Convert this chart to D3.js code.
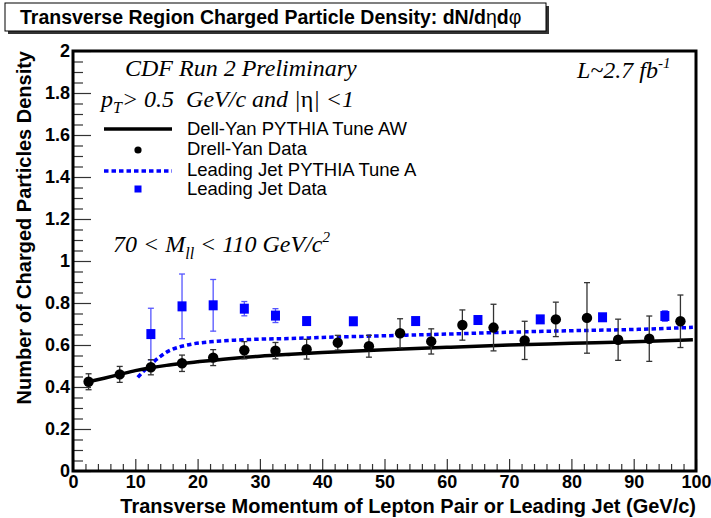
<!DOCTYPE html>
<html>
<head>
<meta charset="utf-8">
<script src="https://cdn.jsdelivr.net/npm/d3@7"></script>
<style>
  body { margin: 0; background: #fff; }
  text { font-family: "Liberation Sans", Arial, sans-serif; }
  .it { font-family: "Liberation Serif", "Times New Roman", serif; font-style: italic; white-space: pre; }
</style>
</head>
<body>
<div id="chart"></div>
<script>
// Drell-Yan data (black circles)
var dyX   = [2.5, 7.5, 12.5, 17.5, 22.5, 27.5, 32.5, 37.5, 42.5, 47.5, 52.5, 57.5, 62.5, 67.5, 72.5, 77.5, 82.5, 87.5, 92.5, 97.5];
var dyY   = [0.425, 0.46, 0.494, 0.513, 0.540, 0.575, 0.573, 0.580, 0.611, 0.594, 0.656, 0.617, 0.695, 0.683, 0.622, 0.722, 0.729, 0.625, 0.630, 0.713];
var dyErr = [0.038, 0.038, 0.036, 0.039, 0.038, 0.041, 0.039, 0.047, 0.035, 0.052, 0.069, 0.060, 0.072, 0.111, 0.091, 0.082, 0.168, 0.098, 0.108, 0.125];

// Leading jet data (blue squares)
var ljX   = [12.5, 17.5, 22.5, 27.5, 32.5, 37.5, 45, 55, 65, 75, 85, 95];
var ljY   = [0.652, 0.784, 0.789, 0.773, 0.740, 0.714, 0.713, 0.714, 0.719, 0.722, 0.732, 0.738];
var ljErr = [0.123, 0.154, 0.123, 0.034, 0.033, 0.016, 0.014, 0.014, 0.016, 0.014, 0.015, 0.025];

// PYTHIA Tune AW, Drell-Yan (solid black)
var awX = [2.5, 5, 7.5, 10, 12.5, 15, 17.5, 20, 25, 30, 35, 40, 50, 60, 70, 80, 90, 99.5];
var awY = [0.425, 0.442, 0.46, 0.478, 0.492, 0.503, 0.512, 0.520, 0.535, 0.547, 0.556, 0.564, 0.577, 0.589, 0.600, 0.608, 0.616, 0.625];

// PYTHIA Tune A, leading jet (dotted blue)
var taX = [10.4, 11.5, 12.7, 14, 15.4, 17, 19, 22, 26, 30, 35, 40, 50, 60, 70, 80, 90, 99.5];
var taY = [0.446, 0.48, 0.513, 0.545, 0.572, 0.590, 0.604, 0.615, 0.623, 0.628, 0.631, 0.636, 0.644, 0.652, 0.661, 0.668, 0.674, 0.684];

var xMajor = [0, 10, 20, 30, 40, 50, 60, 70, 80, 90, 100];
var yMajor = [0, 0.2, 0.4, 0.6, 0.8, 1, 1.2, 1.4, 1.6, 1.8, 2];

var legText = ["Dell-Yan PYTHIA Tune AW", "Drell-Yan Data", "Leading Jet PYTHIA Tune A", "Leading Jet Data"];

var W = 711, H = 518;
var pL = 73, pR = 696, pT = 51, pB = 471;

var svg = d3.select("#chart").append("svg")
    .attr("width", W)
    .attr("height", H);

var x = d3.scaleLinear().domain([0, 100]).range([pL, pR]);
var y = d3.scaleLinear().domain([0, 2]).range([pB, pT]);

// title box with shadow
svg.append("rect").attr("x", 8).attr("y", 6).attr("width", 541).attr("height", 28).attr("fill", "#333");
svg.append("rect").attr("x", 5).attr("y", 3).attr("width", 541).attr("height", 28)
    .attr("fill", "#fff").attr("stroke", "#000").attr("stroke-width", 1);
var title = svg.append("text").attr("x", 20).attr("y", 24)
    .style("font-size", "19.5px").style("font-weight", "bold");
title.append("tspan").text("Transverse Region Charged Particle Density: dN/d");
title.append("tspan").style("font-weight", "normal").text("η");
title.append("tspan").text("d");
title.append("tspan").style("font-weight", "normal").text("φ");

// axes (ticks inward)
var minorX = d3.range(0, 101, 2).filter(function(d){ return d % 10 != 0; });
var minorY = d3.range(0, 41).map(function(d){ return d * 0.05; })
    .filter(function(d, i){ return i % 4 != 0; });

svg.append("g").attr("transform", "translate(0," + pB + ")")
    .call(d3.axisBottom(x).tickValues(minorX).tickSize(-7).tickFormat(""))
    .call(function(g){ g.select(".domain").remove(); });
svg.append("g").attr("transform", "translate(0," + pB + ")")
    .call(d3.axisBottom(x).tickValues(xMajor).tickSize(-12).tickPadding(4).tickFormat(d3.format("d")))
    .call(function(g){ g.select(".domain").remove(); });

svg.append("g").attr("transform", "translate(" + pL + ",0)")
    .call(d3.axisLeft(y).tickValues(minorY).tickSize(-10).tickFormat(""))
    .call(function(g){ g.select(".domain").remove(); });
svg.append("g").attr("transform", "translate(" + pL + ",0)")
    .call(d3.axisLeft(y).tickValues(yMajor).tickSize(-18).tickPadding(3).tickFormat(d3.format("~g")))
    .call(function(g){ g.select(".domain").remove(); });

svg.selectAll(".tick line").attr("stroke", "#333").attr("stroke-width", 1.2);
svg.selectAll(".tick text")
    .style("font-family", "'Liberation Sans', Arial, sans-serif")
    .style("font-size", "18px").style("font-weight", "bold").attr("fill", "#000");

// frame
svg.append("rect").attr("x", pL).attr("y", pT)
    .attr("width", pR - pL).attr("height", pB - pT)
    .attr("fill", "none").attr("stroke", "#000").attr("stroke-width", 3);

// axis titles
svg.append("text").attr("x", pR).attr("y", 513).attr("text-anchor", "end")
    .style("font-size", "20px").style("font-weight", "bold")
    .text("Transverse Momentum of Lepton Pair or Leading Jet (GeV/c)");
svg.append("text").attr("transform", "translate(31," + pT + ") rotate(-90)")
    .attr("text-anchor", "end")
    .style("font-size", "20px").style("font-weight", "bold")
    .text("Number of Charged Particles Density");

// model curves
var line = d3.line().curve(d3.curveMonotoneX)
    .x(function(d){ return x(d[0]); })
    .y(function(d){ return y(d[1]); });

svg.append("path").datum(taX.map(function(v, i){ return [v, taY[i]]; }))
    .attr("d", line).attr("fill", "none")
    .attr("stroke", "#0000ff").attr("stroke-width", 3.5).attr("stroke-dasharray", "4.5,3");

svg.append("path").datum(awX.map(function(v, i){ return [v, awY[i]]; }))
    .attr("d", line).attr("fill", "none")
    .attr("stroke", "#000").attr("stroke-width", 3.5);

// error bars
function errorBars(xs, ys, es, color) {
  var g = svg.append("g").attr("stroke", color).attr("stroke-width", 1.3);
  xs.forEach(function(v, i){
    g.append("line").attr("x1", x(v)).attr("x2", x(v)).attr("y1", y(ys[i] - es[i])).attr("y2", y(ys[i] + es[i]));
    g.append("line").attr("x1", x(v) - 3).attr("x2", x(v) + 3).attr("y1", y(ys[i] - es[i])).attr("y2", y(ys[i] - es[i]));
    g.append("line").attr("x1", x(v) - 3).attr("x2", x(v) + 3).attr("y1", y(ys[i] + es[i])).attr("y2", y(ys[i] + es[i]));
  });
}
errorBars(ljX, ljY, ljErr, "#5555ff");
errorBars(dyX, dyY, dyErr, "#333");

svg.selectAll(".lj").data(ljX).enter().append("rect")
    .attr("class", "lj")
    .attr("x", function(d){ return x(d) - 4.5; })
    .attr("y", function(d, i){ return y(ljY[i]) - 5; })
    .attr("width", 9).attr("height", 10)
    .attr("fill", "#0000ff");

svg.selectAll(".dy").data(dyX).enter().append("circle")
    .attr("class", "dy")
    .attr("cx", function(d){ return x(d); })
    .attr("cy", function(d, i){ return y(dyY[i]); })
    .attr("r", 5.2)
    .attr("fill", "#000");

// annotations
svg.append("text").attr("class", "it").attr("x", 125).attr("y", 76)
    .style("font-size", "24px").text("CDF Run 2 Preliminary");

var lum = svg.append("text").attr("class", "it").attr("x", 577).attr("y", 78)
    .style("font-size", "24px");
lum.append("tspan").text("L~2.7 fb");
lum.append("tspan").attr("dy", -10).style("font-size", "15px").text("-1");

var cut = svg.append("text").attr("class", "it").attr("x", 101).attr("y", 107)
    .style("font-size", "24px");
cut.append("tspan").text("p");
cut.append("tspan").attr("dy", 6).style("font-size", "16px").text("T");
cut.append("tspan").attr("dy", -6).text("> 0.5  GeV/c and |");
cut.append("tspan").style("font-style", "normal").text("η");
cut.append("tspan").text("| <1");

var mass = svg.append("text").attr("class", "it").attr("x", 113).attr("y", 252)
    .style("font-size", "24px");
mass.append("tspan").text("70 < M");
mass.append("tspan").attr("dy", 7).style("font-size", "16px").text("ll");
mass.append("tspan").attr("dy", -7).text(" < 110 GeV/c");
mass.append("tspan").attr("dy", -10).style("font-size", "15px").text("2");

// legend
var leg = svg.append("g");
leg.append("line").attr("x1", 104).attr("x2", 172).attr("y1", 129).attr("y2", 129)
    .attr("stroke", "#000").attr("stroke-width", 3.5);
leg.append("circle").attr("cx", 138).attr("cy", 150).attr("r", 3.6).attr("fill", "#000");
leg.append("line").attr("x1", 104).attr("x2", 172).attr("y1", 171).attr("y2", 171)
    .attr("stroke", "#0000ff").attr("stroke-width", 3.5).attr("stroke-dasharray", "4.5,3");
leg.append("rect").attr("x", 134.5).attr("y", 185.5).attr("width", 7).attr("height", 7).attr("fill", "#0000ff");

var legY = [135, 155, 176, 195];
leg.selectAll(".lt").data(legText).enter().append("text")
    .attr("class", "lt")
    .attr("x", 187)
    .attr("y", function(d, i){ return legY[i]; })
    .style("font-size", "18.5px")
    .text(function(d){ return d; });
</script>
</body>
</html>
